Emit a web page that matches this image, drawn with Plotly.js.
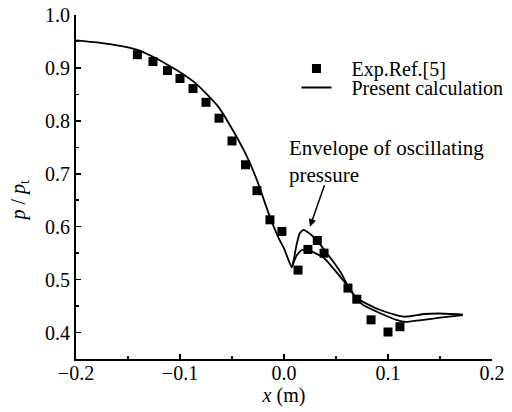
<!DOCTYPE html>
<html>
<head>
<meta charset="utf-8">
<script src="https://cdn.plot.ly/plotly-3.0.1.min.js"></script>
<style>html,body{margin:0;padding:0;background:#fff;}#chart{width:512px;height:412px;}</style>
</head>
<body>
<div id="chart"></div>
<script>
// Experimental data (Exp.Ref.[5])
var expX = [-0.141, -0.126, -0.112, -0.100, -0.0875, -0.075, -0.0625, -0.050, -0.037, -0.026, -0.0135, -0.002, 0.0135, 0.023, 0.032, 0.0385, 0.0615, 0.070, 0.0837, 0.100, 0.1115];
var expY = [0.925, 0.912, 0.895, 0.880, 0.861, 0.835, 0.805, 0.762, 0.717, 0.668, 0.613, 0.591, 0.518, 0.557, 0.574, 0.550, 0.484, 0.463, 0.424, 0.401, 0.411];

// Present calculation - upper envelope
var upX = [-0.2, -0.175, -0.15, -0.141, -0.126, -0.112, -0.1, -0.0875, -0.075, -0.0625, -0.05, -0.037, -0.026, -0.0135, -0.005, 0.0, 0.0075, 0.012, 0.015, 0.0187, 0.024, 0.031, 0.042, 0.055, 0.062, 0.07, 0.076, 0.092, 0.108, 0.117, 0.125, 0.135, 0.15, 0.172];
var upY = [0.952, 0.947, 0.939, 0.934, 0.921, 0.906, 0.892, 0.875, 0.852, 0.825, 0.785, 0.738, 0.688, 0.618, 0.578, 0.559, 0.523, 0.565, 0.587, 0.594, 0.588, 0.575, 0.548, 0.512, 0.486, 0.465, 0.458, 0.443, 0.433, 0.430, 0.432, 0.435, 0.436, 0.434];

// Present calculation - lower envelope
var loX = [0.0075, 0.012, 0.017, 0.027, 0.039, 0.05, 0.062, 0.07, 0.076, 0.092, 0.108, 0.117, 0.13, 0.15, 0.172];
var loY = [0.523, 0.545, 0.556, 0.553, 0.540, 0.515, 0.486, 0.463, 0.452, 0.437, 0.424, 0.420, 0.423, 0.428, 0.433];

var xTicks = [-0.2, -0.1, 0.0, 0.1, 0.2];
var yTicks = [0.4, 0.5, 0.6, 0.7, 0.8, 0.9, 1.0];

var serif = "'Liberation Serif', 'Times New Roman', serif";
var tf = {family: serif, size: 20, color: '#000'};

var traces = [
  {x: expX, y: expY, type: 'scatter', mode: 'markers', name: '\u00a0\u00a0\u00a0Exp.Ref.[5]',
   legend: 'legend', marker: {symbol: 'square', size: 9, color: '#000'}},
  {x: upX, y: upY, type: 'scatter', mode: 'lines', name: '\u00a0\u00a0\u00a0Present calculation',
   legend: 'legend2', line: {color: '#000', width: 1.8, shape: 'spline', smoothing: 0.4}},
  {x: loX, y: loY, type: 'scatter', mode: 'lines', name: 'Present calculation', showlegend: false,
   line: {color: '#000', width: 1.8, shape: 'spline', smoothing: 0.4}}
];

var legBase = {xanchor: 'left', yanchor: 'top', bgcolor: 'rgba(0,0,0,0)',
               font: {family: serif, size: 20, color: '#000'}, itemwidth: 30};

var layout = {
  width: 512, height: 412,
  margin: {l: 76, r: 20, t: 15, b: 53, autoexpand: false},
  paper_bgcolor: '#fff', plot_bgcolor: '#fff',
  font: tf,
  showlegend: true,
  legend: Object.assign({x: 0.53, y: 0.901}, legBase),
  legend2: Object.assign({x: 0.53, y: 0.846}, legBase),
  xaxis: {range: [-0.2, 0.2], tickvals: xTicks, tickformat: '.1f', ticks: 'inside', ticklen: 5,
          tickfont: tf, ticklabelstandoff: -5,
          tickcolor: '#000', tickwidth: 1.5, showline: true, linecolor: '#000', linewidth: 2,
          showgrid: false, zeroline: false, mirror: false,
          minor: {dtick: 0.05, ticks: 'inside', ticklen: 3, tickcolor: '#000', tickwidth: 1.5, showgrid: false},
          title: {text: '<i>x</i> (m)', font: tf, standoff: 0}},
  yaxis: {range: [0.35, 1.0], tickvals: yTicks, tickformat: '.1f', ticks: 'inside', ticklen: 5,
          tickfont: tf,
          tickcolor: '#000', tickwidth: 1.5, showline: true, linecolor: '#000', linewidth: 2,
          showgrid: false, zeroline: false, mirror: false,
          minor: {dtick: 0.05, ticks: 'inside', ticklen: 3, tickcolor: '#000', tickwidth: 1.5, showgrid: false}},
  annotations: [
    {xref: 'paper', yref: 'paper', x: -0.135, y: 0.46, xanchor: 'center', yanchor: 'middle',
     text: '<i>p</i> / <i>p</i><sub>t</sub>',
     textangle: -90, showarrow: false, font: tf},
    {xref: 'x', yref: 'y', x: 0.003, y: 0.724, xanchor: 'left', yanchor: 'middle', align: 'left',
     text: 'Envelope of oscillating<br>pressure', showarrow: false,
     font: {family: serif, size: 21, color: '#000'}},
    {xref: 'x', yref: 'y', x: 0.025, y: 0.600, axref: 'x', ayref: 'y', ax: 0.0394, ay: 0.681,
     text: '', showarrow: true, arrowhead: 2, arrowsize: 1, arrowwidth: 1.5, arrowcolor: '#000'}
  ]
};

Plotly.newPlot('chart', traces, layout, {displayModeBar: false, staticPlot: true});
</script>
</body>
</html>
